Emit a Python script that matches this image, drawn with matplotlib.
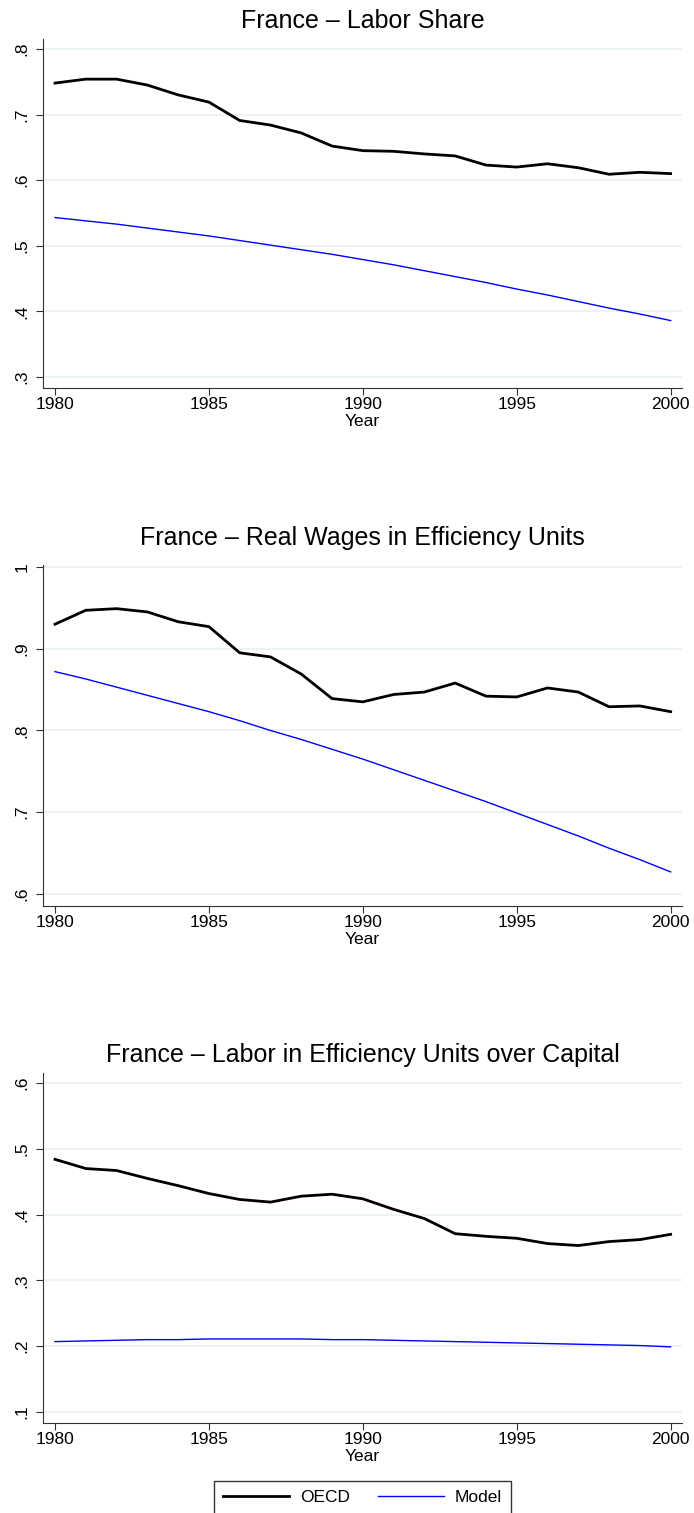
import matplotlib
matplotlib.use("Agg")
import matplotlib.pyplot as plt
from matplotlib.lines import Line2D

plt.rcParams['font.family'] = ['Liberation Sans', 'DejaVu Sans']

years = list(range(1980, 2001))

# Labor share
share_oecd = [0.748, 0.754, 0.754, 0.745, 0.730, 0.719, 0.691, 0.684, 0.672, 0.652, 0.645,
              0.644, 0.640, 0.637, 0.623, 0.620, 0.625, 0.619, 0.609, 0.612, 0.610]
share_model = [0.543, 0.538, 0.533, 0.527, 0.521, 0.515, 0.508, 0.501, 0.494, 0.487, 0.479,
               0.471, 0.462, 0.453, 0.444, 0.434, 0.425, 0.415, 0.405, 0.396, 0.386]

# Real wages in efficiency units
wage_oecd = [0.930, 0.947, 0.949, 0.945, 0.933, 0.927, 0.895, 0.890, 0.869, 0.839, 0.835,
             0.844, 0.847, 0.858, 0.842, 0.841, 0.852, 0.847, 0.829, 0.830, 0.823]
wage_model = [0.872, 0.863, 0.853, 0.843, 0.833, 0.823, 0.812, 0.800, 0.789, 0.777, 0.765,
              0.752, 0.739, 0.726, 0.713, 0.699, 0.685, 0.671, 0.656, 0.642, 0.627]

# Labor in efficiency units over capital
lk_oecd = [0.484, 0.470, 0.467, 0.455, 0.444, 0.432, 0.423, 0.419, 0.428, 0.431, 0.424,
           0.408, 0.394, 0.371, 0.367, 0.364, 0.356, 0.353, 0.359, 0.362, 0.370]
lk_model = [0.207, 0.208, 0.209, 0.210, 0.210, 0.211, 0.211, 0.211, 0.211, 0.210, 0.210,
            0.209, 0.208, 0.207, 0.206, 0.205, 0.204, 0.203, 0.202, 0.201, 0.199]

xticks = [1980, 1985, 1990, 1995, 2000]

H = 1513.0
panels = [
    ("France \u2013 Labor Share", share_oecd, share_model,
     [0.3, 0.4, 0.5, 0.6, 0.7, 0.8], [".3", ".4", ".5", ".6", ".7", ".8"],
     (0.2832, 0.8152), [0.0624, 1 - 388 / H, 0.9199, 349 / H], 28),
    ("France \u2013 Real Wages in Efficiency Units", wage_oecd, wage_model,
     [0.6, 0.7, 0.8, 0.9, 1.0], [".6", ".7", ".8", ".9", "1"],
     (0.5853, 1.0024), [0.0624, 1 - 906 / H, 0.9199, 341 / H], 545),
    ("France \u2013 Labor in Efficiency Units over Capital", lk_oecd, lk_model,
     [0.1, 0.2, 0.3, 0.4, 0.5, 0.6], [".1", ".2", ".3", ".4", ".5", ".6"],
     (0.0833, 0.6152), [0.0624, 1 - 1423 / H, 0.9199, 350 / H], 1062),
]

fig = plt.figure(figsize=(6.94, 15.13), dpi=100)

for title, oecd, model, yt, ytl, ylim, pos, title_y in panels:
    ax = fig.add_axes(pos)
    for v in yt:
        ax.axhline(v, color='#eaf2f3', lw=1.3, zorder=0)
    ax.plot(years, oecd, color='black', lw=2.0, solid_joinstyle='round')
    ax.plot(years, model, color='#0000ff', lw=1.0)
    ax.set_xlim(1979.62, 2000.36)
    ax.set_ylim(*ylim)
    ax.set_xticks(xticks)
    ax.set_xticklabels([str(x) for x in xticks], fontsize=12.5)
    ax.set_yticks(yt)
    ax.set_yticklabels(ytl, fontsize=12.5, rotation=90, va='center')
    ax.tick_params(direction='out', length=4.7, width=0.8, color='#333333')
    ax.tick_params(axis='x', pad=2)
    ax.tick_params(axis='y', pad=5)
    ax.spines['top'].set_visible(False)
    ax.spines['right'].set_visible(False)
    ax.spines['left'].set_color('#333333')
    ax.spines['bottom'].set_color('#333333')
    ax.set_xlabel('Year', fontsize=12.5, labelpad=1.5)
    fig.text(0.5223, 1 - title_y / H, title, fontsize=18, ha='center', va='baseline')

handles = [Line2D([], [], color='black', lw=2.0), Line2D([], [], color='#0000ff', lw=1.0)]
leg = fig.legend(handles, ['OECD', 'Model'], loc='upper center',
                 bbox_to_anchor=(0.5223, 1 - 1481 / H), ncol=2, fontsize=12.5,
                 handlelength=3.8, handletextpad=0.63, columnspacing=1.6,
                 frameon=True, fancybox=False, edgecolor='black', borderpad=0.5,
                 borderaxespad=0)
leg.get_frame().set_linewidth(1.0)

plt.savefig('out.png', dpi=100)
